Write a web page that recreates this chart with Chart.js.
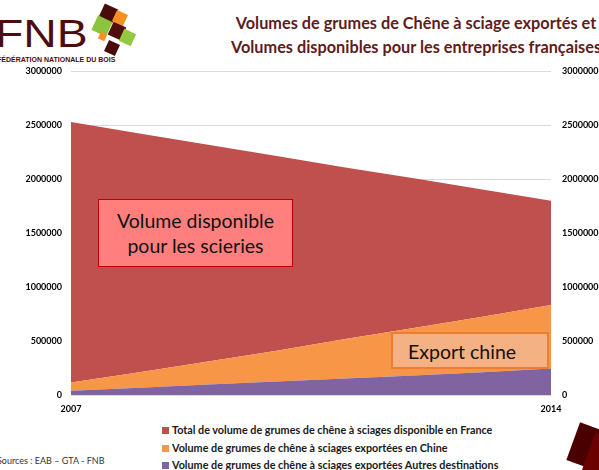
<!DOCTYPE html>
<html>
<head>
<meta charset="utf-8">
<script src="https://cdn.jsdelivr.net/npm/chart.js@4/dist/chart.umd.min.js"></script>
<style>
  body { margin: 0; background: #fff; }
  #page { position: relative; width: 599px; height: 470px; overflow: hidden; background: #fff; font-family: Lato, "Noto Sans", sans-serif; }
  #wrap { position: absolute; left: 0; top: 55px; width: 599px; height: 365px; }
  .title { position: absolute; right: -27px; top: 11px; width: 420px; text-align: center; color: #5e1c1c; font-weight: bold; font-size: 16.3px; line-height: 24px; }
  .fnb { position: absolute; left: -5px; top: 13px; font-family: "Liberation Sans", Arial, sans-serif; font-size: 38px; color: #4d0d0d; transform: scaleX(1.22); transform-origin: left top; }
  .fed { position: absolute; left: -3px; top: 56px; font-family: "Liberation Sans", sans-serif; font-size: 7px; font-weight: bold; color: #4d0d0d; }
  .cube { position: absolute; transform: rotate(25deg); }
  .note { position: absolute; color: #111; font-size: 19.5px; line-height: 25px; box-sizing: border-box; }
  #legend { position: absolute; left: 162px; top: 421px; font-size: 10.8px; font-weight: bold; color: #1a1a1a; }
  #legend div { height: 17.5px; line-height: 17.5px; white-space: nowrap; }
  #legend span { display: inline-block; width: 7px; height: 7px; margin-right: 3px; }
  .src { position: absolute; left: -3px; top: 455px; font-size: 9px; color: #333; }
</style>
</head>
<body>
<div id="page">
  <div class="fnb">FNB</div>
  <div class="fed">FÉDÉRATION NATIONALE DU BOIS</div>
  <div class="cube" style="left:101px;top:6px;width:15px;height:15px;background:#4a0b0b"></div>
  <div class="cube" style="left:114px;top:12px;width:12px;height:12px;background:#f7901e"></div>
  <div class="cube" style="left:94px;top:18px;width:16px;height:16px;background:#8cc43e"></div>
  <div class="cube" style="left:110px;top:24px;width:14px;height:14px;background:#520d0d"></div>
  <div class="cube" style="left:121px;top:31px;width:13px;height:13px;background:#94c843"></div>
  <div class="cube" style="left:99px;top:33px;width:7px;height:7px;background:#f7901e"></div>
  <div class="cube" style="left:106px;top:42px;width:12px;height:12px;background:#4a0b0b"></div>

  <div class="title">Volumes de grumes de Chêne à sciage exportés et<br>Volumes disponibles pour les entreprises françaises</div>

  <div id="wrap"><canvas id="canvas"></canvas></div>

  <div class="note" style="left:98px;top:199px;width:195px;height:68px;background:#ff7f7f;border:1.5px solid #c00000;padding-top:8px;text-align:center;">Volume disponible<br>pour les scieries</div>
  <div class="note" style="left:391px;top:332px;width:158px;height:37px;background:#f4b183;border:2px solid #ed7d31;padding-top:5px;padding-left:15px;">Export chine</div>

  <div id="legend"></div>
  <div class="src">Sources : EAB – GTA - FNB</div>

  <div class="cube" style="left:572px;top:428px;width:40px;height:40px;background:#4a0000;transform:rotate(20deg)"></div>
  <div class="cube" style="left:588px;top:436px;width:30px;height:40px;background:#6b0000;transform:rotate(20deg)"></div>
</div>

<script>
// années (seules la première et la dernière sont affichées sur l'axe)
const annees = ["2007", "2008", "2009", "2010", "2011", "2012", "2013", "2014"];

// volumes (m3), empilés : autres destinations, chine, disponible
const exportAutres = [40000, 68000, 97000, 125000, 152000, 180000, 210000, 245000];
const exportChine = [76000, 142000, 213000, 285000, 368000, 440000, 515000, 590000];
const disponible = [2414000, 2215000, 2010000, 1805000, 1590000, 1390000, 1180000, 965000];

const yTicks = [0, 500000, 1000000, 1500000, 2000000, 2500000, 3000000];

const libelles = [
    "Volume de grumes de chêne à sciages exportées Autres destinations",
    "Volume de grumes de chêne à sciages exportées en Chine",
    "Total de volume de grumes de chêne à sciages disponible en France"
];
const couleurs = ["#8064a2", "#f79646", "#c0504d"];

function createGraph() {
    const tickFont = { family: "Lato", size: 9, weight: "bold" };
    const data = {
        labels: annees,
        datasets: [
            { label: libelles[0], data: exportAutres, backgroundColor: couleurs[0], fill: "origin" },
            { label: libelles[1], data: exportChine, backgroundColor: couleurs[1], fill: "-1" },
            { label: libelles[2], data: disponible, backgroundColor: couleurs[2], fill: "-1" }
        ]
    };
    data.datasets.forEach(d => { d.borderWidth = 0; d.pointRadius = 0; d.tension = 0; });

    const yTickOpts = function(pad) {
        return { padding: pad, color: "#000", font: tickFont, callback: function(v) { return String(v); } };
    };

    const config = {
        type: "line",
        data: data,
        options: {
            responsive: true,
            maintainAspectRatio: false,
            animation: false,
            layout: { padding: { top: 10, right: 0, left: 0, bottom: 0 } },
            plugins: { legend: { display: false }, tooltip: { enabled: false } },
            scales: {
                x: {
                    offset: false,
                    grid: { display: false },
                    border: { display: false },
                    ticks: {
                        padding: 1, maxRotation: 0, autoSkip: false, color: "#000", font: tickFont,
                        callback: function(v, i) { return (i === 0 || i === annees.length - 1) ? annees[i] : ""; }
                    },
                    afterFit: function(s) { s.height = 25; }
                },
                y: {
                    stacked: true, min: 0, max: 3000000,
                    grid: { color: "#d9d9d9", drawTicks: false },
                    border: { display: false },
                    afterBuildTicks: function(s) { s.ticks = yTicks.map(v => ({ value: v })); },
                    ticks: yTickOpts(9),
                    afterFit: function(s) { s.width = 71; }
                },
                y2: {
                    position: "right", min: 0, max: 3000000,
                    grid: { display: false, drawTicks: false },
                    border: { display: false },
                    afterBuildTicks: function(s) { s.ticks = yTicks.map(v => ({ value: v })); },
                    ticks: yTickOpts(11),
                    afterFit: function(s) { s.width = 48; }
                }
            }
        }
    };
    new Chart(document.getElementById("canvas"), config);
}

// légende : ordre inverse de l'empilement
function createLegend() {
    const leg = document.getElementById("legend");
    for (let i = libelles.length - 1; i >= 0; i--) {
        const row = document.createElement("div");
        row.innerHTML = '<span style="background:' + couleurs[i] + '"></span>' + libelles[i];
        leg.appendChild(row);
    }
}

createGraph();
createLegend();
</script>
</body>
</html>
